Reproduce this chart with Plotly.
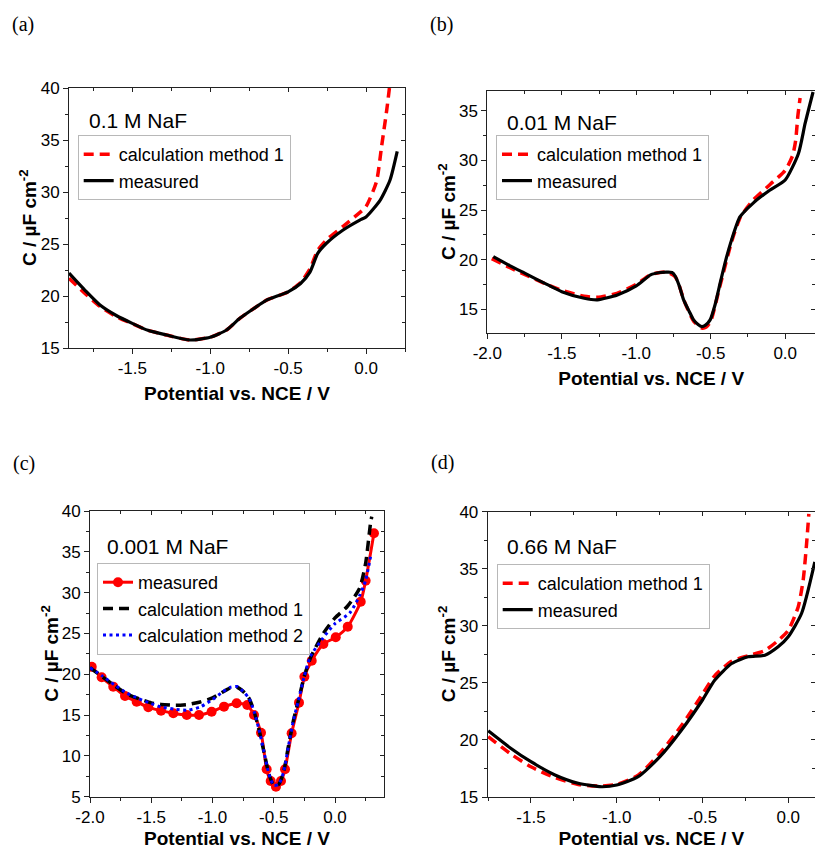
import plotly.graph_objects as go

# ---------------- data ----------------
# (a) 0.1 M NaF
a_meas_x = [-1.906, -1.8, -1.707, -1.6, -1.5, -1.4, -1.28, -1.13, -1.0, -0.895, -0.81, -0.72, -0.638, -0.5, -0.42, -0.36, -0.31, -0.254, -0.147, -0.04, 0.0, 0.09, 0.154, 0.2]
a_meas_y = [22.2, 20.5, 19.13, 18.1, 17.37, 16.7, 16.25, 15.77, 16.03, 16.73, 17.85, 18.8, 19.6, 20.4, 21.2, 22.3, 24.1, 25.07, 26.35, 27.3, 27.6, 29.2, 31.15, 33.9]
a_calc_x = [-1.906, -1.8, -1.707, -1.6, -1.5, -1.4, -1.28, -1.13, -1.0, -0.895, -0.81, -0.72, -0.638, -0.5, -0.42, -0.36, -0.31, -0.254, -0.147, -0.05, 0.0, 0.067, 0.1, 0.133, 0.15]
a_calc_y = [21.7, 20.2, 19.0, 18.0, 17.35, 16.7, 16.25, 15.77, 16.03, 16.73, 17.85, 18.8, 19.6, 20.4, 21.3, 22.6, 24.4, 25.4, 26.7, 27.9, 28.6, 31.0, 34.4, 37.9, 40.0]

# (b) 0.01 M NaF
b_meas_x = [-1.96, -1.85, -1.749, -1.6, -1.5, -1.349, -1.26, -1.127, -1.0, -0.904, -0.84, -0.793, -0.76, -0.737, -0.71, -0.682, -0.645, -0.615, -0.585, -0.56, -0.535, -0.504, -0.47, -0.437, -0.4, -0.36, -0.304, -0.215, -0.104, 0.0, 0.089, 0.134, 0.187]
b_meas_y = [20.3, 19.4, 18.63, 17.5, 16.77, 16.1, 15.94, 16.44, 17.35, 18.46, 18.7, 18.73, 18.7, 18.3, 17.3, 15.94, 14.8, 13.92, 13.45, 13.25, 13.4, 13.92, 15.5, 17.62, 19.9, 21.99, 24.3, 25.7, 27.0, 28.03, 30.7, 33.75, 36.9]
b_calc_x = [-1.97, -1.85, -1.75, -1.6, -1.5, -1.35, -1.26, -1.13, -1.0, -0.9, -0.8, -0.74, -0.71, -0.68, -0.615, -0.56, -0.53, -0.5, -0.437, -0.36, -0.3, -0.215, -0.1, 0.0, 0.05, 0.07, 0.085, 0.1]
b_calc_y = [20.1, 19.2, 18.5, 17.5, 16.9, 16.3, 16.2, 16.6, 17.5, 18.5, 18.75, 18.3, 17.3, 15.9, 13.8, 13.1, 13.2, 13.8, 17.4, 21.8, 24.3, 26.0, 27.6, 29.0, 30.5, 32.0, 34.5, 36.3]

# (c) 0.001 M NaF
c_meas_x = [-1.986, -1.905, -1.81, -1.714, -1.619, -1.524, -1.42, -1.32, -1.21, -1.11, -1.007, -0.906, -0.803, -0.716, -0.661, -0.604, -0.558, -0.525, -0.482, -0.441, -0.408, -0.354, -0.294, -0.25, -0.19, -0.095, 0.006, 0.104, 0.21, 0.25, 0.318]
c_meas_y = [20.93, 19.63, 18.48, 17.34, 16.64, 15.95, 15.54, 15.22, 15.0, 15.0, 15.41, 16.03, 16.44, 16.24, 15.0, 12.84, 8.36, 6.92, 6.23, 6.92, 8.36, 12.77, 16.52, 19.7, 21.66, 23.7, 24.53, 25.83, 28.89, 31.46, 37.27]
c_calc1_x = [-2.0, -1.9, -1.8, -1.7, -1.6, -1.5, -1.42, -1.3, -1.2, -1.1, -1.0, -0.92, -0.857, -0.8, -0.75, -0.7, -0.66, -0.62, -0.58, -0.54, -0.5, -0.46, -0.42, -0.38, -0.34, -0.3, -0.25, -0.2, -0.1, 0.0, 0.1, 0.2, 0.25, 0.29, 0.3]
c_calc1_y = [20.8, 19.7, 18.6, 17.6, 17.0, 16.5, 16.3, 16.2, 16.3, 16.6, 17.1, 17.8, 18.3, 18.4, 17.9, 17.0, 15.4, 13.2, 10.5, 7.8, 6.4, 6.5, 8.0, 11.2, 14.3, 16.7, 19.8, 22.0, 24.9, 26.9, 28.3, 30.5, 33.6, 38.5, 39.3]
c_calc2_x = [-2.0, -1.9, -1.8, -1.7, -1.6, -1.5, -1.42, -1.3, -1.2, -1.1, -1.0, -0.92, -0.857, -0.8, -0.75, -0.7, -0.66, -0.62, -0.58, -0.54, -0.5, -0.46, -0.42, -0.38, -0.34, -0.3, -0.25, -0.2, -0.1, 0.0, 0.12, 0.2, 0.25, 0.29]
c_calc2_y = [20.8, 19.8, 18.7, 17.7, 17.0, 16.4, 16.0, 15.7, 15.6, 16.0, 16.9, 17.8, 18.4, 18.5, 17.9, 17.0, 15.4, 13.2, 10.5, 7.8, 6.4, 6.5, 8.0, 11.2, 14.3, 16.7, 19.8, 22.2, 24.4, 26.2, 27.5, 29.6, 31.5, 34.4]

# (d) 0.66 M NaF
d_meas_x = [-1.749, -1.62, -1.5, -1.36, -1.224, -1.088, -1.0, -0.875, -0.748, -0.622, -0.5, -0.428, -0.33, -0.234, -0.136, -0.059, 0.0, 0.078, 0.155]
d_meas_y = [20.8, 19.3, 18.09, 16.93, 16.2, 15.9, 16.05, 16.78, 18.53, 20.87, 23.5, 25.25, 26.7, 27.29, 27.43, 28.16, 29.04, 31.1, 35.6]
d_calc_x = [-1.749, -1.62, -1.5, -1.36, -1.224, -1.088, -1.0, -0.875, -0.75, -0.62, -0.5, -0.43, -0.33, -0.23, -0.14, -0.06, 0.0, 0.058, 0.087, 0.107, 0.12]
d_calc_y = [20.28, 18.8, 17.65, 16.7, 16.1, 15.95, 16.1, 16.9, 18.8, 21.3, 24.0, 25.6, 26.9, 27.4, 27.8, 28.7, 29.6, 31.66, 34.0, 37.2, 39.8]

panel_labels = ["(a)", "(b)", "(c)", "(d)"]
conc_labels = ["0.1 M NaF", "0.01 M NaF", "0.001 M NaF", "0.66 M NaF"]

x_tickvals = [-2.0, -1.5, -1.0, -0.5, 0.0]
x_ticktext = ["-2.0", "-1.5", "-1.0", "-0.5", "0.0"]
y_tickvals = [5, 10, 15, 20, 25, 30, 35, 40]
y_ticktext = ["5", "10", "15", "20", "25", "30", "35", "40"]

x_title = "<b>Potential vs. NCE / V</b>"
y_title = "<b>C / µF cm<sup>-2</sup></b>"

# ---------------- layout geometry (pixels) ----------------
W, H = 815, 849
panels = [
    dict(px=(69, 405), py=(88, 348), xr=[-1.906, 0.25], yr=[15, 40]),
    dict(px=(487.3, 815), py=(91, 333), xr=[-2.0, 0.2], yr=[12.6, 37.0]),
    dict(px=(90, 384), py=(511, 796.7), xr=[-2.0, 0.4], yr=[5, 40]),
    dict(px=(487.7, 815), py=(511.7, 797), xr=[-1.752, 0.156], yr=[15, 40]),
]
label_pos = [(10, 25), (428, 25), (11, 463), (429, 462)]
conc_pos = [(87, 120), (505, 122), (105, 546), (505, 546)]
legend_pos = [(77.7, 135), (496, 135), (97, 563), (496.7, 564)]
ytitle_x = [28, 447, 50, 447]

FONT = "Liberation Sans, Arial, sans-serif"
RED = "#ff0000"
BLUE = "#0000ff"
BLACK = "#000000"
AXC = "#222222"

fig = go.Figure()

def add(i, x, y, name, color, dash, width=3.2, markers=False):
    xa = "x" if i == 0 else f"x{i+1}"
    ya = "y" if i == 0 else f"y{i+1}"
    lg = "legend" if i == 0 else f"legend{i+1}"
    fig.add_trace(go.Scatter(
        x=x, y=y, name=name, xaxis=xa, yaxis=ya, legend=lg,
        mode="lines+markers" if markers else "lines",
        line=dict(color=color, width=width, dash=dash, shape="spline", smoothing=0.6),
        marker=dict(size=10, color=color) if markers else None,
        hoverinfo="skip",
    ))

DASH = "10px,6px"
DOT = "3px,3.5px"

add(0, a_calc_x, a_calc_y, "calculation method 1", RED, DASH, 3.5)
add(0, a_meas_x, a_meas_y, "measured", BLACK, "solid", 3.2)
add(1, b_calc_x, b_calc_y, "calculation method 1", RED, DASH, 3.5)
add(1, b_meas_x, b_meas_y, "measured", BLACK, "solid", 3.2)
add(2, c_meas_x, c_meas_y, "measured", RED, "solid", 3.0, markers=True)
add(2, c_calc1_x, c_calc1_y, "calculation method 1", BLACK, DASH, 3.5)
add(2, c_calc2_x, c_calc2_y, "calculation method 2", BLUE, DOT, 3.0)
add(3, d_calc_x, d_calc_y, "calculation method 1", RED, DASH, 3.5)
add(3, d_meas_x, d_meas_y, "measured", BLACK, "solid", 3.2)

layout = dict(
    width=W, height=H, margin=dict(l=0, r=0, t=0, b=0, pad=0, autoexpand=False),
    paper_bgcolor="white", plot_bgcolor="white",
    font=dict(family=FONT, color="black", size=17),
    showlegend=True,
)

annotations = []
for i, p in enumerate(panels):
    k = "" if i == 0 else str(i + 1)
    kt = str(i + 5)
    xd = [p["px"][0] / W, p["px"][1] / W]
    yd = [1 - p["py"][1] / H, 1 - p["py"][0] / H]
    xtv = [v for v in x_tickvals if p["xr"][0] - 1e-9 <= v <= p["xr"][1]]
    xtt = [x_ticktext[x_tickvals.index(v)] for v in xtv]
    ytv = [v for v in y_tickvals if p["yr"][0] - 1e-9 <= v <= p["yr"][1]]
    ytt = [y_ticktext[y_tickvals.index(v)] for v in ytv]
    layout["xaxis" + k] = dict(
        domain=xd, range=p["xr"], anchor="y" + k, side="bottom", automargin=False,
        tickmode="array", tickvals=xtv, ticktext=xtt,
        ticks="outside", ticklen=5, tickwidth=1, tickcolor=AXC,
        minor=dict(ticks="outside", ticklen=3, tickmode="linear", tick0=0, dtick=0.25, tickcolor=AXC),
        showline=True, linecolor=AXC, linewidth=1, mirror=False,
        showgrid=False, zeroline=False,
        tickfont=dict(size=17, family=FONT),
        title=dict(text=x_title, font=dict(size=19, family=FONT), standoff=9),
    )
    layout["yaxis" + k] = dict(
        domain=yd, range=p["yr"], anchor="x" + k, side="left", automargin=False,
        tickmode="array", tickvals=ytv, ticktext=ytt,
        ticks="outside", ticklen=5, tickwidth=1, tickcolor=AXC,
        minor=dict(ticks="outside", ticklen=3, tickmode="linear", tick0=0, dtick=2.5, tickcolor=AXC),
        showline=True, linecolor=AXC, linewidth=1, mirror=False,
        showgrid=False, zeroline=False,
        tickfont=dict(size=17, family=FONT),
    )
    layout["xaxis" + kt] = dict(
        overlaying="x" + k, range=p["xr"], anchor="y" + k, side="top", automargin=False,
        tickmode="array", tickvals=xtv, ticks="inside", ticklen=4, tickcolor=AXC,
        minor=dict(ticks="inside", ticklen=3, tickmode="linear", tick0=0, dtick=0.25, tickcolor=AXC),
        showticklabels=False, showline=True, linecolor=AXC, linewidth=1,
        showgrid=False, zeroline=False,
    )
    layout["yaxis" + kt] = dict(
        overlaying="y" + k, range=p["yr"], anchor="x" + k, side="right", automargin=False,
        tickmode="array", tickvals=ytv, ticks="inside", ticklen=4, tickcolor=AXC,
        minor=dict(ticks="inside", ticklen=3, tickmode="linear", tick0=0, dtick=2.5, tickcolor=AXC),
        showticklabels=False, showline=True, linecolor=AXC, linewidth=1,
        showgrid=False, zeroline=False,
    )
    fig.add_trace(go.Scatter(x=[], y=[], xaxis="x" + kt, yaxis="y" + kt,
                             showlegend=False, hoverinfo="skip"))
    lx, ly = legend_pos[i]
    layout["legend" + k] = dict(
        x=lx / W, y=1 - ly / H, xanchor="left", yanchor="top",
        bgcolor="white", bordercolor="#b8b8b8", borderwidth=1,
        font=dict(size=18, family=FONT), tracegroupgap=0, itemwidth=30,
    )
    # y-axis title (rotated text)
    annotations.append(dict(
        text=y_title, x=ytitle_x[i] / W, y=(yd[0] + yd[1]) / 2, xref="paper", yref="paper",
        xanchor="center", yanchor="middle", textangle=-90, showarrow=False,
        font=dict(family=FONT, size=19),
    ))
    tx, ty = label_pos[i]
    annotations.append(dict(
        text=panel_labels[i], x=tx / W, y=1 - ty / H, xref="paper", yref="paper",
        xanchor="left", yanchor="middle", showarrow=False,
        font=dict(family="Liberation Serif, Times New Roman, serif", size=20),
    ))
    cx, cy = conc_pos[i]
    annotations.append(dict(
        text=conc_labels[i], x=cx / W, y=1 - cy / H, xref="paper", yref="paper",
        xanchor="left", yanchor="middle", showarrow=False,
        font=dict(family=FONT, size=21),
    ))

layout["annotations"] = annotations
fig.update_layout(**layout)
fig.write_html("out.html")
